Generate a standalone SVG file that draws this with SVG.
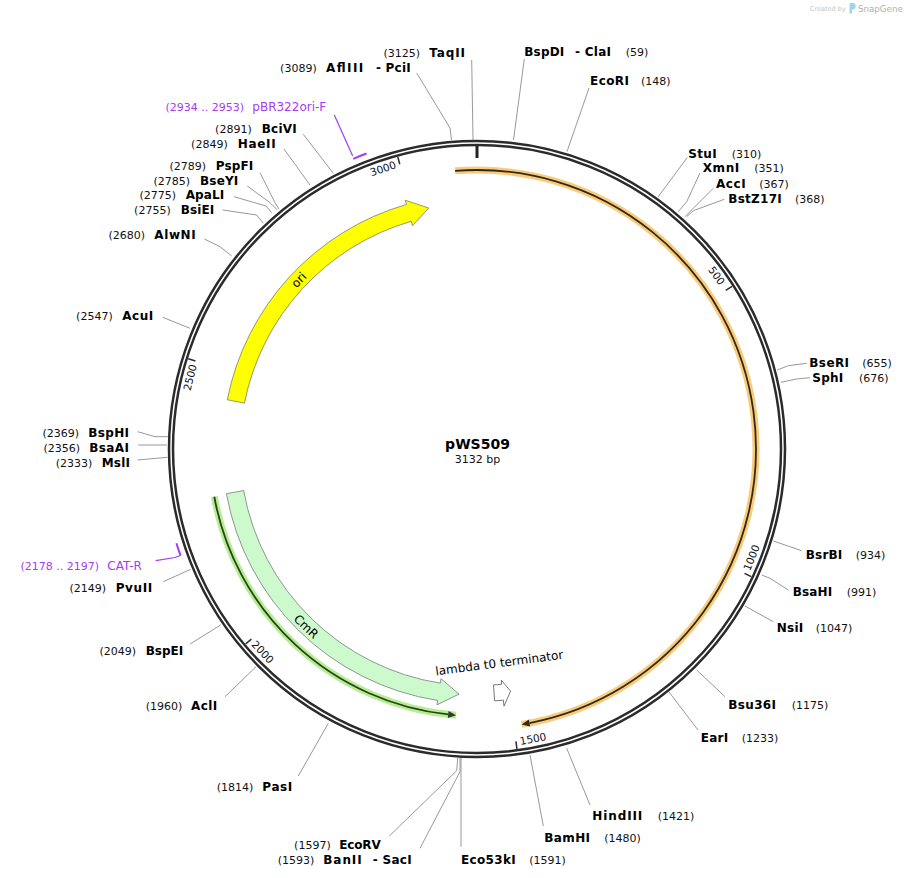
<svg xmlns="http://www.w3.org/2000/svg" width="907" height="878" viewBox="0 0 907 878">
<style>
text{font-family:"DejaVu Sans",Verdana,sans-serif}
.nm{font-weight:bold;font-size:12px;fill:#000}
.ps{font-size:11px;fill:#111}
.l{text-anchor:end}
.pr{fill:#a33cf2;font-size:12px}
.prs{fill:#a33cf2;font-size:11px}
.lead{fill:none;stroke:#8c8c8c;stroke-width:0.9}
.plead{fill:none;stroke:#a33cf2;stroke-width:1.2}
.ring{fill:none;stroke:#2b2b2b;stroke-width:2.5}
.tick{stroke:#2b2b2b;stroke-width:1.5}
.tk{font-size:10.5px;fill:#111;text-anchor:middle}
.feat{stroke:#6a6a6a;stroke-width:0.7}
</style>
<rect width="907" height="878" fill="#fff"/>

<g id="watermark">
<text x="810" y="11" font-size="6.5" fill="#c4c4c4">Created by</text>
<path d="M849.5,3 h3 a3.2,3.2 0 0 1 0,6.4 h-0.6 v4 h-2.4 z" fill="#9fd4ef"/>
<text x="858" y="12" font-size="8.7" fill="#b0b0b0">SnapGene</text>
</g>

<g id="backbone">
<circle class="ring" cx="477" cy="449" r="308"/>
<circle class="ring" cx="477" cy="449" r="304"/>
<line x1="477" y1="146" x2="477" y2="158" stroke="#222" stroke-width="3"/>
<g class="ticks">
<line class="tick" x1="477" y1="146.5" x2="477" y2="154" transform="rotate(57.471 477 449)"/>
<line class="tick" x1="477" y1="146.5" x2="477" y2="154" transform="rotate(114.943 477 449)"/>
<line class="tick" x1="477" y1="146.5" x2="477" y2="154" transform="rotate(172.414 477 449)"/>
<line class="tick" x1="477" y1="146.5" x2="477" y2="154" transform="rotate(229.885 477 449)"/>
<line class="tick" x1="477" y1="146.5" x2="477" y2="154" transform="rotate(287.356 477 449)"/>
<line class="tick" x1="477" y1="146.5" x2="477" y2="154" transform="rotate(344.828 477 449)"/>
<text class="tk" x="477" y="157" transform="rotate(54.12 477 449)">500</text>
<text class="tk" x="477" y="748" transform="rotate(-68.4 477 449)">1000</text>
<text class="tk" x="477" y="748" transform="rotate(-10.94 477 449)">1500</text>
<text class="tk" x="477" y="748" transform="rotate(46.53 477 449)">2000</text>
<text class="tk" x="477" y="157" transform="rotate(284.0 477 449)">2500</text>
<text class="tk" x="477" y="157" transform="rotate(341.48 477 449)">3000</text>
</g>
</g>

<g id="title">
<text x="477.5" y="449.3" text-anchor="middle" font-size="14" font-weight="bold">pWS509</text>
<text x="477.5" y="462.7" text-anchor="middle" font-size="11" fill="#111">3132 bp</text>
</g>

<g id="feature-orange">
<path d="M455.11,170.86 A279,279 0 0 1 521.61,724.41" fill="none" stroke="#f9cc7c" stroke-width="7"/>
<path d="M455.11,170.86 A279,279 0 0 1 529.52,723.01" fill="none" stroke="#33291a" stroke-width="1.8"/>
<path d="M528.86,719.57 L521.61,724.41 L530.18,726.45 Z" fill="#33291a"/>
</g>

<g id="feature-green">
<path d="M214.30,496.74 A267,267 0 0 0 456.05,715.18" fill="none" stroke="#b6ef92" stroke-width="7"/>
<path d="M214.30,496.74 A267,267 0 0 0 448.16,714.44" fill="none" stroke="#2c3f24" stroke-width="1.8"/>
<path d="M448.54,710.96 L456.05,715.18 L447.79,717.92 Z" fill="#2c3f24"/>
</g>

<g id="ori">
<path class="feat" d="M227.30,399.78 A254.5,254.5 0 0 1 406.42,204.48 L405.18,200.16 L428.72,208.04 L412.53,225.62 L411.28,221.30 A237,237 0 0 0 244.47,403.16 Z" fill="#ffff00"/>
<text x="477" y="207.5" font-size="12" text-anchor="middle" fill="#000" transform="rotate(313.5 477 449)">ori</text>
</g>

<g id="CmR">
<path class="feat" d="M226.44,493.63 A254.5,254.5 0 0 0 437.63,700.44 L436.93,704.88 L459.00,694.09 L441.03,678.70 L440.33,683.15 A237,237 0 0 1 243.67,490.56 Z" fill="#ccfacc"/>
<text x="477" y="699.5" font-size="12" text-anchor="middle" fill="#000" transform="rotate(43.9 477 449)">CmR</text>
</g>

<g id="lambda-t0-terminator">
<path d="M494.61,700.88 A252.5,252.5 0 0 0 503.39,700.12 L504.02,706.08 L510.60,691.18 L501.30,680.23 L501.72,684.20 A236.5,236.5 0 0 1 493.50,684.92 Z" fill="#fff" stroke="#555" stroke-width="0.8"/>
<text x="436" y="675.5" font-size="12" fill="#000" transform="rotate(-7.5 436 675.5)">lambda t0 terminator</text>
</g>

<g id="primer-pBR322ori-F">
<path d="M353.22,158.80 A315.5,315.5 0 0 1 366.51,153.48" fill="none" stroke="#a33cf2" stroke-width="2"/>
<text class="prs l" x="244" y="110.7">(2934 .. 2953)</text>
<text class="pr" x="252.3" y="110.7">pBR322ori-F</text>
</g>

<g id="primer-CAT-R">
<path d="M180.62,555.70 A315,315 0 0 1 176.41,543.20" fill="none" stroke="#a33cf2" stroke-width="2"/>
<text class="prs l" x="99" y="570">(2178 .. 2197)</text>
<text class="pr" x="107.3" y="570">CAT-R</text>
</g>

<g id="connectors">
<polyline class="plead" points="334.3,115 352.7,156"/>
<polyline class="plead" points="155.7,560.7 175,557.5 180.5,555.5"/>
<polyline class="lead" points="471.7,60 473,140"/>
<polyline class="lead" points="416.7,73 450,128 451.5,140"/>
<polyline class="lead" points="524.3,59 513.5,140"/>
<polyline class="lead" points="589,88 567,151.5"/>
<polyline class="lead" points="687.3,157.5 658,197"/>
<polyline class="lead" points="700,173 686.7,201.7 678.3,211.7"/>
<polyline class="lead" points="713.3,188.3 693.3,208.3 685,216.7"/>
<polyline class="lead" points="724.3,199.3 693.3,210.7 686.7,216.7"/>
<polyline class="lead" points="806.7,363.3 788.3,365.7 777.3,370"/>
<polyline class="lead" points="810,377.7 796.7,379 780.7,382.3"/>
<polyline class="lead" points="801.7,550.7 773.3,541"/>
<polyline class="lead" points="788.3,590 770,578.3 761.7,575"/>
<polyline class="lead" points="773.3,621.7 745,606"/>
<polyline class="lead" points="725,696.7 696.7,670"/>
<polyline class="lead" points="698,730 669,692"/>
<polyline class="lead" points="590,805 566.7,748.3"/>
<polyline class="lead" points="543.3,826 530,755"/>
<polyline class="lead" points="461,846.7 461,758"/>
<polyline class="lead" points="420,848.3 460,771.7 460,758"/>
<polyline class="lead" points="389.3,836 456.7,770.7 457.7,758"/>
<polyline class="lead" points="298.3,776 328.3,723.3"/>
<polyline class="lead" points="225,696.7 256,666.7"/>
<polyline class="lead" points="190,644 220.7,625"/>
<polyline class="lead" points="163.3,581.7 190.7,569.3"/>
<polyline class="lead" points="137.7,460 167.7,457.3"/>
<polyline class="lead" points="138.3,445 166.7,445"/>
<polyline class="lead" points="137.7,431.7 155,436.7 168,436.7"/>
<polyline class="lead" points="162.7,317.3 190,328.3"/>
<polyline class="lead" points="204.3,239 220,246.7 231.7,256"/>
<polyline class="lead" points="222.7,210 256.7,215 263.3,223.3"/>
<polyline class="lead" points="234,196.7 266,206 271.7,212.7"/>
<polyline class="lead" points="247.3,186 270,202.7 277.3,210"/>
<polyline class="lead" points="260,172.7 275,202.7 279,209"/>
<polyline class="lead" points="284,149 310,185"/>
<polyline class="lead" points="303.3,134.3 333.3,173.3"/>
</g>

<g id="site-TaqII"><text class="ps l" x="420" y="56.5">(3125)</text><text class="nm l" x="465" y="56.5" textLength="35.7">TaqII</text></g>
<g id="site-AflIII-PciI"><text class="ps l" x="316.7" y="71.5">(3089)</text><text class="nm l" x="363.3" y="71.5" textLength="37.3">AflIII</text><text class="nm l" x="410.7" y="71.5" textLength="34.7">- PciI</text></g>
<g id="site-BciVI"><text class="ps l" x="251.7" y="132.7">(2891)</text><text class="nm l" x="296.7" y="132.7" textLength="35">BciVI</text></g>
<g id="site-HaeII"><text class="ps l" x="227.7" y="147.7">(2849)</text><text class="nm l" x="275.7" y="147.7" textLength="38">HaeII</text></g>
<g id="site-PspFI"><text class="ps l" x="206" y="169.7">(2789)</text><text class="nm l" x="253.3" y="169.7" textLength="37.6">PspFI</text></g>
<g id="site-BseYI"><text class="ps l" x="190" y="184.7">(2785)</text><text class="nm l" x="238.3" y="184.7" textLength="38.3">BseYI</text></g>
<g id="site-ApaLI"><text class="ps l" x="176" y="199.3">(2775)</text><text class="nm l" x="224.3" y="199.3" textLength="38.6">ApaLI</text></g>
<g id="site-BsiEI"><text class="ps l" x="170.7" y="214.3">(2755)</text><text class="nm l" x="214.3" y="214.3" textLength="33.6">BsiEI</text></g>
<g id="site-AlwNI"><text class="ps l" x="145" y="239">(2680)</text><text class="nm l" x="195.7" y="239" textLength="41.4">AlwNI</text></g>
<g id="site-AcuI"><text class="ps l" x="112.7" y="320">(2547)</text><text class="nm l" x="153.3" y="320" textLength="31">AcuI</text></g>
<g id="site-BspHI"><text class="ps l" x="79" y="436.7">(2369)</text><text class="nm l" x="129" y="436.7" textLength="40.7">BspHI</text></g>
<g id="site-BsaAI"><text class="ps l" x="80" y="452.3">(2356)</text><text class="nm l" x="129" y="452.3" textLength="39.7">BsaAI</text></g>
<g id="site-MslI"><text class="ps l" x="92.3" y="466.7">(2333)</text><text class="nm l" x="130" y="466.7" textLength="28.3">MslI</text></g>
<g id="site-PvuII"><text class="ps l" x="106" y="591.7">(2149)</text><text class="nm l" x="152.3" y="591.7" textLength="36.6">PvuII</text></g>
<g id="site-BspEI"><text class="ps l" x="136" y="655">(2049)</text><text class="nm l" x="183.3" y="655" textLength="37.6">BspEI</text></g>
<g id="site-AclI"><text class="ps l" x="182.3" y="710">(1960)</text><text class="nm l" x="217.3" y="710" textLength="26.3">AclI</text></g>
<g id="site-PasI"><text class="ps l" x="253.3" y="790.7">(1814)</text><text class="nm l" x="292.3" y="790.7" textLength="30">PasI</text></g>
<g id="site-EcoRV"><text class="ps l" x="330.7" y="849">(1597)</text><text class="nm l" x="380.7" y="849" textLength="41.4">EcoRV</text></g>
<g id="site-BanII-SacI"><text class="ps l" x="314.3" y="864">(1593)</text><text class="nm l" x="361.7" y="864" textLength="38.4">BanII</text><text class="nm l" x="411.7" y="864" textLength="39">- SacI</text></g>

<g id="site-BspDI-ClaI"><text class="nm" x="524.3" y="55.7" textLength="40">BspDI</text><text class="nm" x="575" y="55.7" textLength="36">- ClaI</text><text class="ps" x="625.7" y="55.7">(59)</text></g>
<g id="site-EcoRI"><text class="nm" x="590" y="85" textLength="39">EcoRI</text><text class="ps" x="641" y="85">(148)</text></g>
<g id="site-StuI"><text class="nm" x="688.3" y="157.7" textLength="28.4">StuI</text><text class="ps" x="731.7" y="157.7">(310)</text></g>
<g id="site-XmnI"><text class="nm" x="702.7" y="172.3" textLength="36.6">XmnI</text><text class="ps" x="754.3" y="172.3">(351)</text></g>
<g id="site-AccI"><text class="nm" x="716" y="187.7" textLength="29.7">AccI</text><text class="ps" x="759.3" y="187.7">(367)</text></g>
<g id="site-BstZ17I"><text class="nm" x="728.3" y="202.7" textLength="53.4">BstZ17I</text><text class="ps" x="795" y="202.7">(368)</text></g>
<g id="site-BseRI"><text class="nm" x="809.3" y="367.3" textLength="39.7">BseRI</text><text class="ps" x="862.3" y="367.3">(655)</text></g>
<g id="site-SphI"><text class="nm" x="812.3" y="382.3" textLength="31">SphI</text><text class="ps" x="859" y="382.3">(676)</text></g>
<g id="site-BsrBI"><text class="nm" x="805.7" y="559" textLength="36.6">BsrBI</text><text class="ps" x="855.7" y="559">(934)</text></g>
<g id="site-BsaHI"><text class="nm" x="792.7" y="595.7" textLength="39.6">BsaHI</text><text class="ps" x="846.7" y="595.7">(991)</text></g>
<g id="site-NsiI"><text class="nm" x="776.7" y="632.3" textLength="26.6">NsiI</text><text class="ps" x="815.7" y="632.3">(1047)</text></g>
<g id="site-Bsu36I"><text class="nm" x="728.3" y="709" textLength="47.7">Bsu36I</text><text class="ps" x="791.7" y="709">(1175)</text></g>
<g id="site-EarI"><text class="nm" x="700.7" y="742.3" textLength="27.6">EarI</text><text class="ps" x="741.7" y="742.3">(1233)</text></g>
<g id="site-HindIII"><text class="nm" x="592.3" y="820" textLength="50">HindIII</text><text class="ps" x="657.7" y="820">(1421)</text></g>
<g id="site-BamHI"><text class="nm" x="544.3" y="841.7" textLength="45.7">BamHI</text><text class="ps" x="604.3" y="841.7">(1480)</text></g>
<g id="site-Eco53kI"><text class="nm" x="461" y="864" textLength="54.7">Eco53kI</text><text class="ps" x="529.3" y="864">(1591)</text></g>
</svg>
